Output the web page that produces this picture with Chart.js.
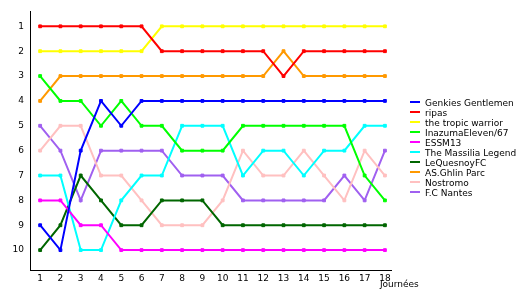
<!DOCTYPE html>
<html>
<head>
<meta charset="utf-8">
<script src="https://cdn.jsdelivr.net/npm/chart.js@4/dist/chart.umd.min.js"></script>
<style>
html,body{margin:0;padding:0;background:#fff;}
#wrap{width:530px;height:300px;position:relative;}
</style>
</head>
<body>
<div id="wrap"><canvas id="c" width="530" height="300"></canvas></div>
<script>
const journees = [1,2,3,4,5,6,7,8,9,10,11,12,13,14,15,16,17,18];
const rankTicks = [1,2,3,4,5,6,7,8,9,10];
const xTitle = 'Journées';

const teamNames = ['Genkies Gentlemen','ripas','the tropic warrior','InazumaEleven/67','ESSM13','The Massilia Legend','LeQuesnoyFC','AS.Ghlin Parc','Nostromo','F.C Nantes'];
const teamColors = ['#0000ff','#ff0000','#ffff00','#00ff00','#ff00ff','#00ffff','#006600','#ff9900','#ffc0c0','#a060f0'];

const genkies   = [9,10,6,4,5,4,4,4,4,4,4,4,4,4,4,4,4,4];
const ripas     = [1,1,1,1,1,1,2,2,2,2,2,2,3,2,2,2,2,2];
const tropic    = [2,2,2,2,2,2,1,1,1,1,1,1,1,1,1,1,1,1];
const inazuma   = [3,4,4,5,4,5,5,6,6,6,5,5,5,5,5,5,7,8];
const essm13    = [8,8,9,9,10,10,10,10,10,10,10,10,10,10,10,10,10,10];
const massilia  = [7,7,10,10,8,7,7,5,5,5,7,6,6,7,6,6,5,5];
const lequesnoy = [10,9,7,8,9,9,8,8,8,9,9,9,9,9,9,9,9,9];
const ghlin     = [4,3,3,3,3,3,3,3,3,3,3,3,2,3,3,3,3,3];
const nostromo  = [6,5,5,7,7,8,9,9,9,8,6,7,7,6,7,8,6,7];
const nantes    = [5,6,8,6,6,6,6,7,7,7,8,8,8,8,8,7,8,6];

const series = [genkies,ripas,tropic,inazuma,essm13,massilia,lequesnoy,ghlin,nostromo,nantes];

const FONT = 'DejaVu Sans';

const datasets = series.map((vals,i)=>({
  label: teamNames[i],
  data: vals.map((v,j)=>({x: journees[j], y: v})),
  borderColor: teamColors[i],
  backgroundColor: teamColors[i],
  borderWidth: 2,
  pointStyle: 'rect',
  pointRadius: 2,
  pointBorderWidth: 1,
  pointHoverRadius: 2,
  tension: 0,
  fill: false
}));

const extras = {
  id: 'extras',
  afterDraw(chart){
    const ctx = chart.ctx;
    const xs = chart.scales.x;
    ctx.save();
    ctx.fillStyle = '#000';
    ctx.font = '9px "' + FONT + '"';
    ctx.textBaseline = 'middle';
    ctx.textAlign = 'left';
    ctx.fillText(xTitle, xs.getPixelForValue(journees[journees.length-1]) - 5, chart.chartArea.bottom + 15);
    // legend
    const lx = 410, ly = 102, step = 10;
    teamNames.forEach((n,i)=>{
      ctx.fillStyle = teamColors[i];
      ctx.fillRect(lx, ly + i*step - 1, 10, 2);
      ctx.fillStyle = '#000';
      ctx.fillText(n, lx + 15, ly + i*step + 2);
    });
    ctx.restore();
  }
};

new Chart(document.getElementById('c'), {
  type: 'line',
  data: { datasets },
  options: {
    responsive: false,
    animation: false,
    events: [],
    layout: { padding: { left: 0, top: 10, right: 139, bottom: 0 } },
    plugins: { legend: { display: false }, tooltip: { enabled: false } },
    scales: {
      x: {
        type: 'linear',
        min: 0.5,
        max: 18.3,
        afterBuildTicks(s){ s.ticks = journees.map(v=>({value:v})); },
        afterFit(s){ s.height = 30; },
        grid: { display: false, drawTicks: false },
        border: { display: true, color: '#000', width: 1 },
        ticks: { color: '#000', font: { family: FONT, size: 9 }, padding: 3, autoSkip: false, maxRotation: 0, callback: v => String(v) }
      },
      y: {
        type: 'linear',
        reverse: true,
        min: 0.4,
        max: 10.8,
        afterBuildTicks(s){ s.ticks = rankTicks.map(v=>({value:v})); },
        afterFit(s){ s.width = 30; },
        grid: { display: false, drawTicks: false },
        border: { display: true, color: '#000', width: 1 },
        ticks: { color: '#000', font: { family: FONT, size: 9 }, padding: 6, autoSkip: false, callback: v => String(v) }
      }
    }
  },
  plugins: [extras]
});
</script>
</body>
</html>
